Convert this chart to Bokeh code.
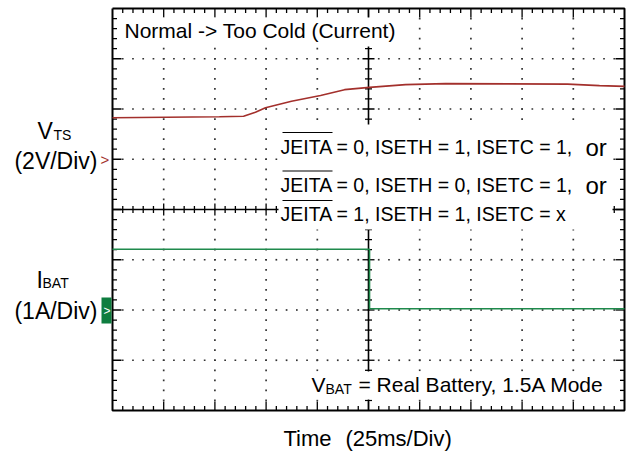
import numpy as np
from bokeh.plotting import figure
from bokeh.models import Range1d, Label, BoxAnnotation
from bokeh.embed import file_html
from bokeh.resources import INLINE

# ---------------- data read from the scope shot ----------------
vts_time_ms = [-125, -72.8, -61.0, -55.2, -50.3, -37.6, -23.4, -11.7, 0.5, 18.1, 37.6, 97.2, 112.8, 125]
vts_volts = [1.65, 1.69, 1.71, 1.87, 2.05, 2.31, 2.54, 2.77, 2.86, 2.97, 3.01, 2.99, 2.93, 2.90]
ibat_time_ms = [-125, 0.5, 0.5, 125]
ibat_amps = [1.21, 1.21, 0.025, 0.025]

TIME_MS_PER_DIV = 25
VTS_VOLTS_PER_DIV = 2
IBAT_AMPS_PER_DIV = 1
VTS_REF_DIV = 1      # channel marker positions (divisions from centre)
IBAT_REF_DIV = -2
N_XDIV, N_YDIV = 10, 8

FONT = "Liberation Sans"

# ---------------- geometry (page pixels of the scope screen) ----------------
W, H = 632, 453
SCR_L, SCR_R, SCR_T, SCR_B = 112, 624, 8, 410
XMIN, XMAX = -N_XDIV / 2 * TIME_MS_PER_DIV, N_XDIV / 2 * TIME_MS_PER_DIV
YMIN, YMAX = -N_YDIV / 2, N_YDIV / 2
XPP = (XMAX - XMIN) / (SCR_R - SCR_L)      # data units per pixel
YPP = (YMAX - YMIN) / (SCR_B - SCR_T)


def tx(px):
    return XMIN + (px - SCR_L) * XPP


def dy(py):
    return YMAX - (py - SCR_T) * YPP


p = figure(width=W, height=H, output_backend="svg", toolbar_location=None,
           x_axis_location=None, y_axis_location=None,
           x_range=Range1d(tx(0), tx(W)), y_range=Range1d(dy(H), dy(0)),
           min_border=0)
p.xgrid.grid_line_color = None
p.ygrid.grid_line_color = None
p.outline_line_color = None
p.background_fill_color = "white"
p.border_fill_color = "white"

# ---------------- graticule ----------------
minor_x = np.arange(XMIN, XMAX + 1e-9, TIME_MS_PER_DIV / 5)
minor_y = np.arange(YMIN, YMAX + 1e-9, 0.2)
major_x = np.arange(XMIN + TIME_MS_PER_DIV, XMAX - 1e-9, TIME_MS_PER_DIV)
major_y = np.arange(YMIN + 1, YMAX - 1e-9, 1.0)


def is_major_x(v):
    return abs((v / TIME_MS_PER_DIV) - round(v / TIME_MS_PER_DIV)) < 1e-6


def is_major_y(v):
    return abs(v - round(v)) < 1e-6


# dotted grid
dx_, dy_ = [], []
for gx in major_x:
    if abs(gx) < 1e-9:
        continue
    for my in minor_y[1:-1]:
        dx_.append(gx); dy_.append(my)
for gy in major_y:
    if abs(gy) < 1e-9:
        continue
    for mx in minor_x[1:-1]:
        dx_.append(mx); dy_.append(gy)
p.scatter(dx_, dy_, marker="square", size=1.7, color="#333333", line_color=None)

# centre cross lines
p.segment(x0=[XMIN, 0], y0=[0, YMIN], x1=[XMAX, 0], y1=[0, YMAX], line_color="black", line_width=1.6)

# ticks
x0s, y0s, x1s, y1s = [], [], [], []
for mx in minor_x[1:-1]:
    L = 9 if is_major_x(mx) else 4.5
    x0s += [mx, mx]; y0s += [YMAX, YMIN]; x1s += [mx, mx]; y1s += [YMAX - L * YPP, YMIN + L * YPP]
    c = 6 if is_major_x(mx) else 3.5
    x0s.append(mx); y0s.append(-c * YPP); x1s.append(mx); y1s.append(c * YPP)
for my in minor_y[1:-1]:
    L = 9 if is_major_y(my) else 4.5
    x0s += [XMIN, XMAX]; y0s += [my, my]; x1s += [XMIN + L * XPP, XMAX - L * XPP]; y1s += [my, my]
    c = 6 if is_major_y(my) else 3.5
    x0s.append(-c * XPP); y0s.append(my); x1s.append(c * XPP); y1s.append(my)
p.segment(x0=x0s, y0=y0s, x1=x1s, y1=y1s, line_color="black", line_width=1.3)

# screen border
p.line([XMIN, XMAX, XMAX, XMIN, XMIN], [YMAX, YMAX, YMIN, YMIN, YMAX], line_color="black", line_width=2)

# ---------------- traces ----------------
vts_y = [VTS_REF_DIV + v / VTS_VOLTS_PER_DIV for v in vts_volts]
ibat_y = [IBAT_REF_DIV + a / IBAT_AMPS_PER_DIV for a in ibat_amps]
p.line(vts_time_ms, vts_y, line_color="#a3302c", line_width=1.6)
p.line(ibat_time_ms, ibat_y, line_color="#1f8a4c", line_width=1.6)

# ---------------- white text boxes ----------------
for (l, r, t, b) in [(118, 402, 17, 46), (278, 612, 124, 229), (305, 613, 371, 399)]:
    p.add_layout(BoxAnnotation(left=tx(l), right=tx(r), top=dy(t), bottom=dy(b),
                               fill_color="white", fill_alpha=1.0, line_color=None))


def lab(text, px, py, size, color="black", align="left", **kw):
    p.add_layout(Label(x=tx(px), y=dy(py), text=text, text_font=FONT, text_font_size=f"{size}px",
                       text_color=color, text_align=align, text_baseline="middle", **kw))


lab("Normal -> Too Cold (Current)", 124, 30, 21)

lab("JEITA = 0, ISETH = 1, ISETC = 1,", 280, 146, 19.5)
lab("or", 585, 147, 24)
lab("JEITA = 0, ISETH = 0, ISETC = 1,", 280, 184, 19.5)
lab("or", 585, 185, 24)
lab("JEITA = 1, ISETH = 1, ISETC = x", 280, 213, 19.5)
for oy in (132, 170.5, 200):
    p.add_layout(BoxAnnotation(left=tx(282), right=tx(332), top=dy(oy - 0.6), bottom=dy(oy + 0.6),
                               fill_color="black", fill_alpha=1.0, line_color=None))

lab("V", 311, 384, 21)
lab("BAT", 325, 388, 14)
lab("= Real Battery, 1.5A Mode", 358, 384, 21)

lab("V", 37, 130, 23)
lab("TS", 53, 134, 14)
lab("(2V/Div)", 97, 160, 23, align="right")
lab(">", 100, 159, 15, color="#a3302c")

lab("I", 36, 279, 23)
lab("BAT", 42, 282, 14)
lab("(1A/Div)", 97, 310, 23, align="right")
p.add_layout(Label(x=tx(101), y=dy(310), text=">", text_font=FONT, text_font_size="12px",
                   text_color="white", text_align="left", text_baseline="middle",
                   background_fill_color="#0e7d3f", padding=dict(left=2, right=1, top=6, bottom=6)))

lab("Time", 283, 438, 22)
lab("(25ms/Div)", 345, 438, 22)

open("out.html", "w").write(file_html(p, INLINE))
